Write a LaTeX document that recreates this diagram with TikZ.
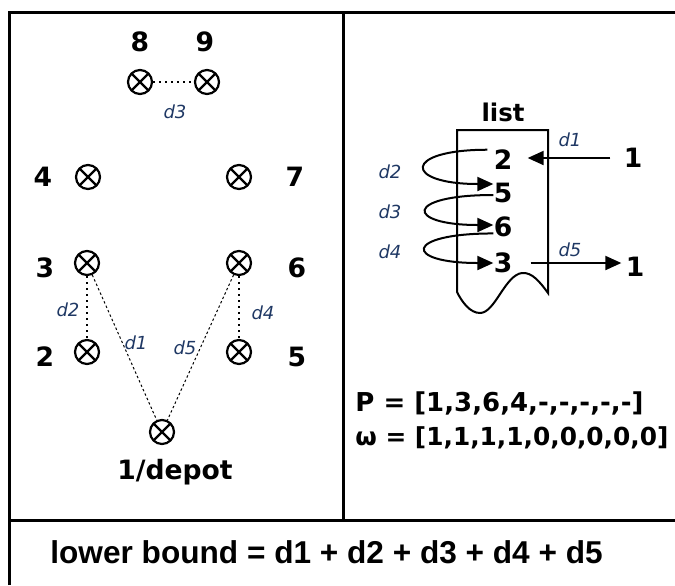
\documentclass[tikz,border=0pt]{standalone}
\usepackage{fontspec}
\setmainfont{DejaVu Sans}
\newfontfamily\boundfont{Liberation Sans}
\usetikzlibrary{arrows.meta}
\definecolor{distblue}{RGB}{31,56,100}
\tikzset{
  frame/.style={line width=1.5pt},
  customer/.style={circle, draw, line width=1.1pt, minimum size=12pt, inner sep=0pt,
    path picture={\draw[line width=1.1pt]
      (path picture bounding box.north west) -- (path picture bounding box.south east)
      (path picture bounding box.north east) -- (path picture bounding box.south west);}},
  num/.style={inner sep=0pt, font=\fontsize{13.3}{16}\selectfont\bfseries},
  dist/.style={inner sep=0pt, text=distblue, font=\fontsize{9}{11}\selectfont\itshape},
  route/.style={line width=1pt, dotted},
  trip/.style={line width=0.5pt, dash pattern=on 1.2pt off 1.2pt},
  listarrow/.style={line width=1pt, -{Triangle[length=8pt,width=7pt]}},
}
\begin{document}
\begin{tikzpicture}[x=0.5pt, y=-0.5pt]
  % 1. Rahmen, 2. Kunden links, 3. Liste rechts, 4. Schranke unten
  \useasboundingbox (0,0) rectangle (675,585);
  \draw[frame] (9,585) -- (9,12) -- (675,12);
  \draw[frame] (9,520) -- (675,520);
  \draw[frame] (343,12) -- (343,520);

  % customers
  \node[customer] (c8) at (140,82) {};
  \node[customer] (c9) at (207,82) {};
  \node[customer] (c4) at (88,177) {};
  \node[customer] (c7) at (239,177) {};
  \node[customer] (c3) at (87,263) {};
  \node[customer] (c6) at (239,263) {};
  \node[customer] (c2) at (87,352) {};
  \node[customer] (c5) at (239,352) {};
  \node[customer] (c1) at (162,432) {};

  \node[num] (n8) at (140,42) {8};
  \node[num] (n9) at (205,42) {9};
  \node[num] (n4) at (43,177) {4};
  \node[num] (n7) at (295,177) {7};
  \node[num] (n3) at (45,268) {3};
  \node[num] (n6) at (297,268) {6};
  \node[num] (n2) at (45,357) {2};
  \node[num] (n5) at (297,357) {5};
  \node[num] (n1) at (175,472) {1/depot};

  \draw[route] (c8) -- (c9);
  \draw[route] (c3) -- (c2);
  \draw[route] (c6) -- (c5);
  \draw[trip] (c3) -- (c1);
  \draw[trip] (c6) -- (c1);

  \node[dist] (dl3) at (175,112) {d3};
  \node[dist] (dl2) at (68,310) {d2};
  \node[dist] (dl4) at (263,313) {d4};
  \node[dist] (dl1) at (136,343) {d1};
  \node[dist] (dl5) at (185,348) {d5};

  % list
  \node[inner sep=0pt, font=\fontsize{12.2}{15}\selectfont\bfseries] (list) at (503,112) {list};
  \draw[line width=1pt] (457,292) -- (457,130) -- (548,130) -- (548,293)
    .. controls (540,282) and (532,272) .. (522,273)
    .. controls (505,275) and (495,313) .. (480,313)
    .. controls (470,313) and (462,302) .. (457,292);
  \node[num] (l2) at (503,160) {2};
  \node[num] (l5) at (503,193) {5};
  \node[num] (l6) at (503,227) {6};
  \node[num] (l3) at (503,263) {3};
  \node[num] (in1) at (633,158) {1};
  \node[num] (out1) at (635,267) {1};

  \draw[listarrow, shorten <=6.5pt, shorten >=7.5pt] (in1.west) -- (in1.west -| l2.east);
  \draw[listarrow, shorten <=9pt, shorten >=2pt] (l3.east) -- (l3.east -| out1.west);
  \draw[listarrow] ([xshift=-3pt]l2.north west) .. controls +(-85,0) and +(-90,0) .. ([yshift=4.5pt]l5.west);
  \draw[listarrow] ([yshift=-1pt]l5.west) .. controls +(-90,0) and +(-88,0) .. ([yshift=1pt]l6.west);
  \draw[listarrow] ([yshift=2pt]l6.south west) .. controls +(-90,0) and +(-90,0) .. (l3.west);

  \node[dist] (ld1) at (570,140) {d1};
  \node[dist] (ld2) at (390,172) {d2};
  \node[dist] (ld3) at (390,212) {d3};
  \node[dist] (ld4) at (390,252) {d4};
  \node[dist] (ld5) at (570,250) {d5};

  \node[num, anchor=west, font=\fontsize{13}{16}\selectfont\bfseries] (path) at (355,403) {P = [1,3,6,4,-,-,-,-,-]};
  \node[num, anchor=west, font=\fontsize{12.4}{16}\selectfont\bfseries] (omega) at (355,438) {ω = [1,1,1,1,0,0,0,0,0]};

  % lower bound
  \node[inner sep=0pt, anchor=west, font=\boundfont\fontsize{15.8}{19}\selectfont\bfseries] (bound) at (50,552)
    {lower bound = d1 + d2 + d3 + d4 + d5};
\end{tikzpicture}
\end{document}
